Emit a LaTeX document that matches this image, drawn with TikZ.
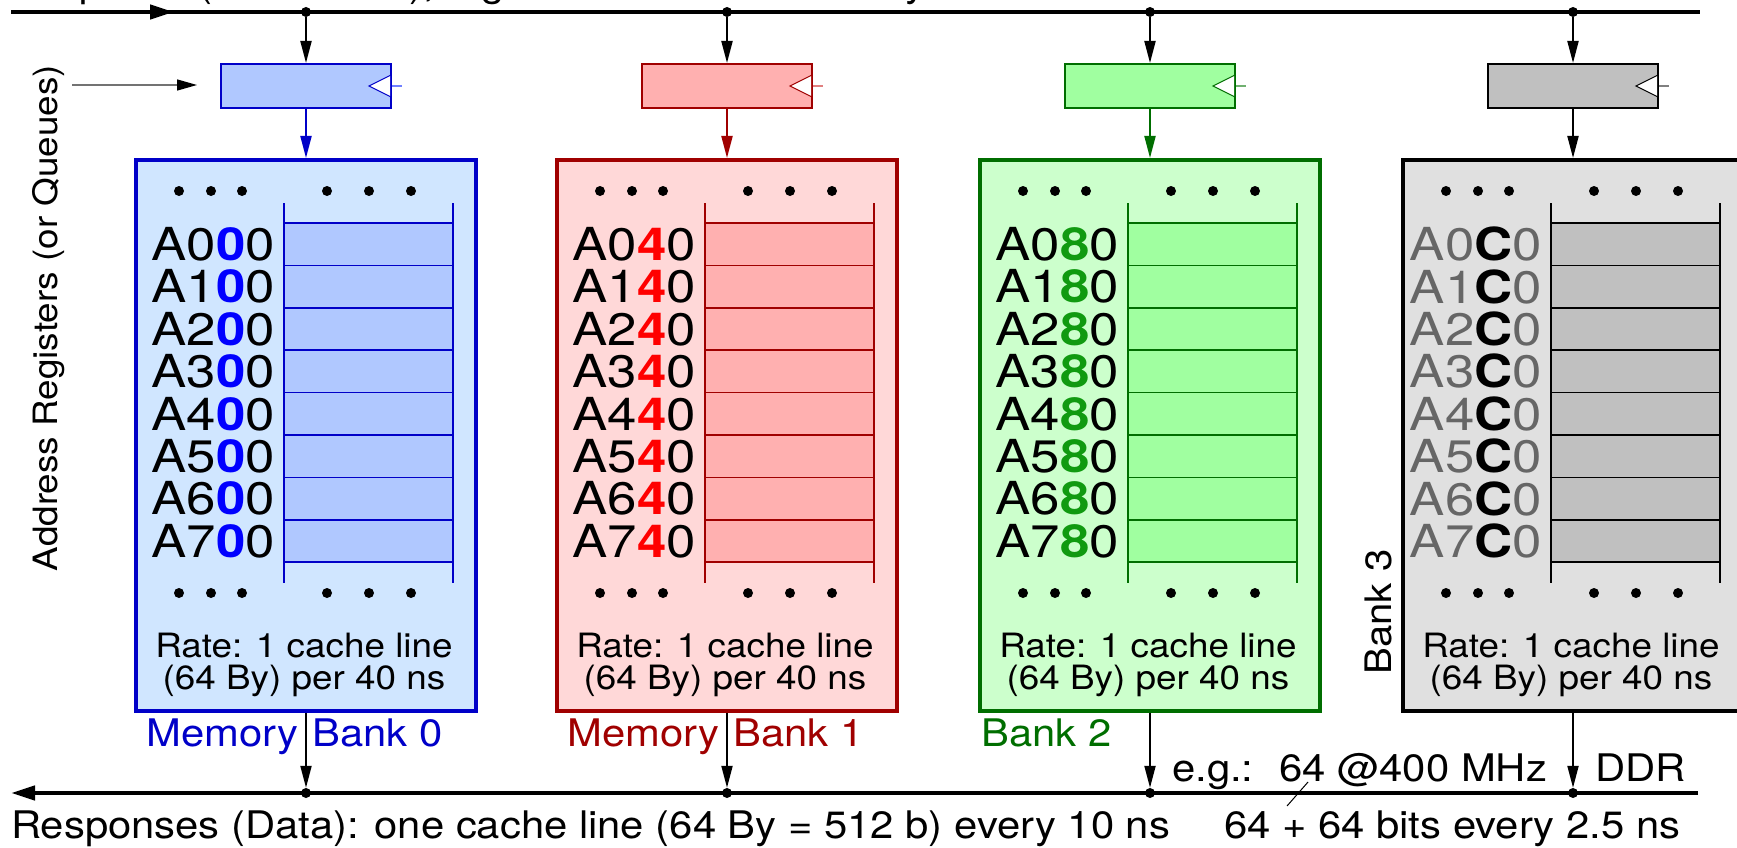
\documentclass[tikz,border=0pt]{standalone}
\usepackage{fontspec}
\setmainfont{TeX Gyre Heros}[FakeStretch=1.1]
\newfontfamily\addrfamily{TeX Gyre Heros}[FakeStretch=1.16]
\usetikzlibrary{arrows.meta}
\definecolor{bB}{HTML}{0000C8}
\definecolor{bF}{HTML}{D0E6FF}
\definecolor{bS}{HTML}{B0C8FF}
\definecolor{bD}{HTML}{0000FF}
\definecolor{bT}{HTML}{7080FF}
\definecolor{rB}{HTML}{A00000}
\definecolor{rF}{HTML}{FFD8D8}
\definecolor{rS}{HTML}{FFB0B0}
\definecolor{rD}{HTML}{FF0000}
\definecolor{rT}{HTML}{E08080}
\definecolor{gB}{HTML}{006E00}
\definecolor{gF}{HTML}{CCFFCC}
\definecolor{gS}{HTML}{A0FFA0}
\definecolor{gD}{HTML}{109A10}
\definecolor{gT}{HTML}{70B070}
\definecolor{kF}{HTML}{E0E0E0}
\definecolor{kS}{HTML}{C0C0C0}
\definecolor{kA}{HTML}{666666}
\definecolor{kT}{HTML}{808080}
\begin{document}
\begin{tikzpicture}[x=1pt,y=-1pt,
  bus/.style={line width=4.5pt},
  dot/.style={circle,fill=black,inner sep=0pt,minimum size=10pt},
  arr/.style={line width=2pt,-{Triangle[length=22pt,width=11pt]}},
  txt/.style={inner sep=0pt,font=\fontsize{38}{40}\selectfont},
  rate/.style={inner sep=0pt,font=\fontsize{33.5}{34}\selectfont},
  addr/.style={inner sep=0pt,font=\addrfamily\fontsize{45.5}{46}\selectfont},
  bankbox/.style={line width=3.5pt,minimum width=340pt,minimum height=551pt,inner sep=0pt,anchor=north},
  regbox/.style={line width=2pt,minimum width=170pt,minimum height=44pt,inner sep=0pt,anchor=north},
]
\useasboundingbox (0,0) rectangle (1737,848);
\clip (0,0) rectangle (1737,848);

% top text (cut off by the picture edge, as in the original)
\node[txt,anchor=base west] (reqtxt) at (11,-3) {Requests (Addresses), e.g.: one cache line every 10 ns};

% buses
\coordinate (tbL) at (11,12);
\coordinate (tbA) at (174,12);
\coordinate (tbR) at (1700,12);
\draw[bus] (tbL) -- (tbR);
\draw[bus,-{Triangle[length=24pt,width=14pt]}] (tbL) -- (tbA);
\coordinate (rbL) at (11,793);
\coordinate (rbR) at (1698,793);
\draw[bus,-{Triangle[length=24pt,width=14pt]}] (rbR) -- (rbL);

\foreach \i/\cx/\bc/\fc/\sc/\dc/\ch/\ac/\stc in {0/306/bB/bF/bS/bD/0/black/bT,1/727/rB/rF/rS/rD/4/black/rT,2/1150/gB/gF/gS/gD/8/black/gT,3/1573/black/kF/kS/black/C/kA/kT}{
  \node[dot] (td\i) at (\cx,12) {};
  \node[dot] (bd\i) at (\cx,793) {};
  \node[regbox,draw=\bc,fill=\sc] (reg\i) at (\cx,63) {};
  \fill[white] (\cx+84,75) -- (\cx+63,86) -- (\cx+84,97) -- cycle;
  \draw[\bc,line width=1pt] (\cx+85,75) -- (\cx+63,86) -- (\cx+85,97);
  \draw[\stc,line width=1.5pt] (\cx+86,86) -- (\cx+96,86);
  \node[bankbox,draw=\bc,fill=\fc] (bank\i) at (\cx,158) {};
  \draw[arr] (td\i) -- (reg\i.north);
  \draw[arr,\bc] (reg\i.south) -- (bank\i.north);
  \draw[arr] (bank\i.south) -- (bd\i.north);
  \foreach \k in {0,...,7}{
    \draw[\bc,line width=1.5pt,fill=\sc] (\cx-22,{223+42.4*\k}) rectangle (\cx+147,{223+42.4*(\k+1)});
    \node[addr,anchor=east,text=\ac] (a\i\k) at (\cx-31,{244.2+42.4*\k}) {A\k{\bfseries\color{\dc}\ch}0};
  }
  \draw[\bc,line width=1.5pt] (\cx-22,203) -- (\cx-22,583) (\cx+147,203) -- (\cx+147,583);
  \foreach \dx in {-127,-95,-64,21,63,105}{
    \fill (\cx+\dx,191) circle (5pt);
    \fill (\cx+\dx,593) circle (5pt);
  }
  \node[rate,anchor=base] (rate\i) at (\cx-2,657) {Rate: 1 cache line};
  \node[rate,anchor=base] (per\i) at (\cx-2,689) {(64 By) per 40 ns};
}

% bank labels
\node[txt,anchor=base east,text=bB] (m0) at (299,746) {Memory};
\node[txt,anchor=base west,text=bB] (b0) at (312,746) {Bank 0};
\node[txt,anchor=base east,text=rB] (m1) at (720,746) {Memory};
\node[txt,anchor=base west,text=rB] (b1) at (733,746) {Bank 1};
\node[txt,anchor=base west,text=gB] (b2) at (981,746) {Bank 2};
\node[inner sep=0pt,font=\fontsize{36.5}{36}\selectfont,rotate=90] (b3) at (1378,612) {Bank 3};

% address registers input
\node[inner sep=0pt,font=\fontsize{33.5}{34}\selectfont,rotate=90] (addrreg) at (49,318) {Address Registers (or Queues)};
\coordinate (inS) at (72,85);
\coordinate (inE) at (197,85);
\draw[line width=1.5pt,draw=black!55,-{Triangle[length=20pt,width=11pt,color=black]}] (inS) -- (inE);

% bottom texts
\node[txt,anchor=base west] (resp) at (11,838) {Responses (Data): one cache line (64 By = 512 b) every 10 ns};
\node[txt,anchor=base west] (bits) at (1224,838) {64 + 64 bits every 2.5 ns};
\node[txt,anchor=base west] (eg) at (1172,781) {e.g.:};
\node[txt,anchor=base west] (freq) at (1279,781) {64 @400 MHz};
\node[txt,anchor=base west] (ddr) at (1595,781) {DDR};
\draw[line width=1pt] (1287,806) -- (1308,782);
\end{tikzpicture}
\end{document}
